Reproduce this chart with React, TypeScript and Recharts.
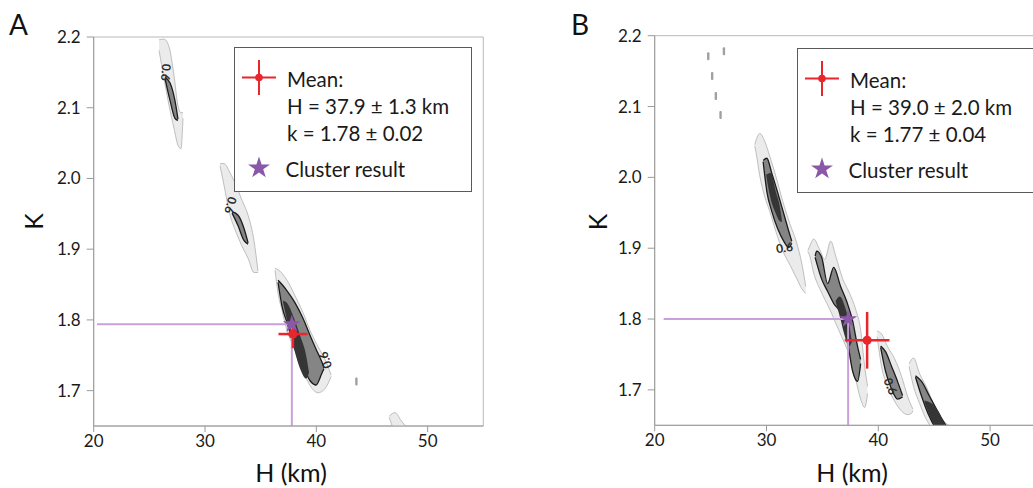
import React from 'react';
import {
  ComposedChart,
  Area,
  Scatter,
  XAxis,
  YAxis,
  ErrorBar,
  ReferenceLine,
  ReferenceArea,
  Symbols,
} from 'recharts';

const FONT = "Lato, 'Open Sans', sans-serif";

// Axes
const hTicks = [20, 30, 40, 50];
const kTicks = [1.7, 1.8, 1.9, 2.0, 2.1, 2.2];
const hDomain: [number, number] = [20, 55];
const kDomain: [number, number] = [1.65, 2.2];

// Contour rows: [H (km), lower k, upper k]
type Row = [number, number, number];

// ---- Panel A ----
const meanA = { h: 37.9, k: 1.78, eh: 1.3, ek: 0.02 };
const clusterA = { h: 37.8, k: 1.794, from: 20.3 };

const a1Outer: Row[] = [
  [25.87, 2.181, 2.196], [26.32, 2.141, 2.197], [26.77, 2.103, 2.186], [27.21, 2.071, 2.146],
  [27.57, 2.047, 2.103], [27.84, 2.042, 2.093], [28.02, 2.085, 2.093],
];
const a1Mid: Row[] = [
  [26.41, 2.141, 2.143], [26.86, 2.110, 2.135], [27.30, 2.085, 2.110], [27.57, 2.082, 2.084],
];
const a2Outer: Row[] = [
  [31.35, 2.018, 2.021], [31.71, 1.990, 2.021], [32.25, 1.948, 2.008], [32.79, 1.924, 1.990],
  [33.33, 1.904, 1.969], [33.87, 1.887, 1.948], [34.40, 1.867, 1.912], [34.76, 1.867, 1.869],
];
const a2Mid: Row[] = [
  [32.43, 1.951, 1.953], [32.97, 1.933, 1.948], [33.51, 1.912, 1.929], [33.87, 1.907, 1.909],
];
const a3Outer: Row[] = [
  [36.29, 1.870, 1.873], [36.56, 1.838, 1.871], [36.92, 1.813, 1.866], [37.37, 1.785, 1.856],
  [38.09, 1.757, 1.834], [38.81, 1.728, 1.810], [39.44, 1.707, 1.785], [40.16, 1.697, 1.762],
  [40.79, 1.703, 1.744], [41.33, 1.720, 1.722],
];
const a3Mid: Row[] = [
  [36.56, 1.853, 1.856], [36.92, 1.819, 1.850], [37.37, 1.796, 1.841], [38.09, 1.759, 1.824],
  [38.81, 1.734, 1.802], [39.44, 1.714, 1.778], [39.97, 1.708, 1.759], [40.51, 1.725, 1.740],
  [40.69, 1.731, 1.732],
];
const a3Core: Row[] = [
  [37.01, 1.825, 1.827], [37.37, 1.799, 1.824], [37.91, 1.764, 1.806], [38.54, 1.731, 1.778],
  [39.08, 1.717, 1.750], [39.34, 1.725, 1.726],
];
const a4Outer: Row[] = [
  [46.55, 1.662, 1.664], [47.08, 1.645, 1.669], [47.6, 1.645, 1.658], [48.0, 1.645, 1.650],
];
const labelsA = [
  { h: 26.5, k: 2.15, angle: 95 },
  { h: 32.3, k: 1.962, angle: 105 },
  { h: 40.8, k: 1.743, angle: -110 },
];
const specksA = [{ h: 43.6, k: 1.713 }];

// ---- Panel B ----
const meanB = { h: 39.0, k: 1.77, eh: 2.0, ek: 0.04 };
const clusterB = { h: 37.3, k: 1.8, from: 20.8 };

const b1Outer: Row[] = [
  [28.95, 2.044, 2.046], [29.04, 2.037, 2.051], [29.40, 2.002, 2.062], [29.84, 1.973, 2.051],
  [30.29, 1.952, 2.030], [30.83, 1.924, 2.002], [31.46, 1.896, 1.966], [32.08, 1.877, 1.935],
  [32.71, 1.857, 1.907], [33.15, 1.843, 1.879], [33.51, 1.836, 1.846],
];
const b1Mid: Row[] = [
  [29.7, 2.022, 2.024], [30.03, 1.980, 2.027], [30.47, 1.952, 2.006], [31.01, 1.927, 1.978],
  [31.54, 1.910, 1.949], [31.99, 1.901, 1.924], [32.26, 1.907, 1.910],
];
const b1Core: Row[] = [
  [29.98, 2.002, 2.004], [30.38, 1.969, 2.006], [30.83, 1.949, 1.980], [31.19, 1.938, 1.959],
  [31.37, 1.937, 1.941],
];
const b2Outer: Row[] = [
  [33.7, 1.895, 1.897], [33.87, 1.889, 1.903], [34.22, 1.865, 1.913], [34.76, 1.843, 1.898],
  [35.21, 1.828, 1.884], [35.74, 1.811, 1.910], [36.19, 1.794, 1.889], [36.81, 1.772, 1.857],
  [37.44, 1.747, 1.836], [37.97, 1.715, 1.814], [38.42, 1.687, 1.785], [38.78, 1.675, 1.733],
  [39.04, 1.695, 1.705],
];
const b2Mid: Row[] = [
  [34.35, 1.887, 1.889], [34.49, 1.879, 1.896], [34.94, 1.856, 1.887], [35.47, 1.839, 1.850],
  [36.01, 1.822, 1.873], [36.63, 1.808, 1.846], [37.17, 1.776, 1.825], [37.71, 1.726, 1.797],
  [38.15, 1.712, 1.761], [38.42, 1.737, 1.743],
];
const b2Core: Row[] = [
  [36.19, 1.824, 1.826], [36.55, 1.804, 1.832], [37.0, 1.776, 1.818], [37.35, 1.761, 1.797],
  [37.62, 1.767, 1.769],
];
const b3Outer: Row[] = [
  [39.9, 1.775, 1.783], [40.29, 1.733, 1.779], [40.83, 1.705, 1.761], [41.46, 1.684, 1.744],
  [42.08, 1.670, 1.719], [42.62, 1.665, 1.691], [42.97, 1.667, 1.677], [43.1, 1.671, 1.673],
];
const b3Mid: Row[] = [
  [40.21, 1.760, 1.762], [40.65, 1.726, 1.754], [41.19, 1.701, 1.733], [41.72, 1.687, 1.712],
  [42.17, 1.690, 1.692],
];
const b4Outer: Row[] = [
  [42.75, 1.733, 1.737], [43.15, 1.705, 1.745], [43.69, 1.681, 1.723], [44.31, 1.658, 1.704],
  [45.03, 1.645, 1.677], [45.92, 1.645, 1.655], [46.54, 1.645, 1.648],
];
const b4Mid: Row[] = [
  [43.33, 1.718, 1.720], [43.87, 1.691, 1.712], [44.58, 1.662, 1.691], [45.30, 1.645, 1.670],
  [45.92, 1.645, 1.653], [46.2, 1.645, 1.647],
];
const b4Core: Row[] = [
  [44.13, 1.683, 1.685], [44.76, 1.658, 1.681], [45.47, 1.645, 1.667], [45.83, 1.645, 1.655],
  [46.0, 1.645, 1.648],
];
const labelsB = [
  { h: 31.6, k: 1.901, angle: -8 },
  { h: 41.1, k: 1.705, angle: 68 },
];
const specksB = [
  { h: 24.79, k: 2.171 }, { h: 25.14, k: 2.143 }, { h: 25.47, k: 2.115 },
  { h: 25.89, k: 2.088 }, { h: 26.19, k: 2.178 },
];

type Layer = 'outer' | 'mid' | 'core';
const LAYER_STYLE: Record<Layer, { fill: string; stroke: string; strokeWidth: number }> = {
  outer: { fill: '#ebebeb', stroke: '#b0b0b0', strokeWidth: 0.8 },
  mid: { fill: '#858585', stroke: '#1c1c1c', strokeWidth: 1.3 },
  core: { fill: '#353535', stroke: 'none', strokeWidth: 0 },
};

const blobsA: [Layer, Row[]][] = [
  ['outer', a1Outer], ['mid', a1Mid],
  ['outer', a2Outer], ['mid', a2Mid],
  ['outer', a3Outer], ['mid', a3Mid], ['core', a3Core],
  ['outer', a4Outer],
];
const blobsB: [Layer, Row[]][] = [
  ['outer', b1Outer], ['mid', b1Mid], ['core', b1Core],
  ['outer', b2Outer], ['mid', b2Mid], ['core', b2Core],
  ['outer', b3Outer], ['mid', b3Mid],
  ['outer', b4Outer], ['mid', b4Mid], ['core', b4Core],
];

const toBand = (rows: Row[]) => rows.map(([h, lo, hi]) => ({ h, band: [lo, hi] }));

const RED = '#e8262b';
const PURPLE = '#8a58a8';
const LILAC = '#c9a0da';
const AXIS = '#9a9a9a';

type Mean = { h: number; k: number; eh: number; ek: number };
type Cluster = { h: number; k: number; from: number };

function Panel(props: {
  blobs: [Layer, Row[]][];
  mean: Mean;
  cluster: Cluster;
  labels: { h: number; k: number; angle: number }[];
  specks: { h: number; k: number }[];
  margin: { top: number; right: number; bottom: number; left: number };
}) {
  const { blobs, mean, cluster, labels, specks, margin } = props;
  return (
    <ComposedChart width={500} height={488} margin={margin}>
      <XAxis
        type="number"
        dataKey="h"
        domain={hDomain}
        ticks={hTicks}
        allowDataOverflow
        height={30}
        tickSize={6}
        tickMargin={3}
        stroke={AXIS}
        tick={{ fill: '#1a1a1a', fontSize: 17, fontFamily: FONT }}
      />
      <YAxis
        type="number"
        dataKey="k"
        domain={kDomain}
        ticks={kTicks}
        allowDataOverflow
        width={60}
        tickSize={7}
        tickMargin={6}
        stroke={AXIS}
        tickFormatter={(v: number) => v.toFixed(1)}
        tick={{ fill: '#1a1a1a', fontSize: 17, fontFamily: FONT }}
      />
      <ReferenceArea
        x1={hDomain[0]}
        x2={hDomain[1]}
        y1={kDomain[0]}
        y2={kDomain[1]}
        fill="none"
        fillOpacity={0}
        stroke="#b8b8b8"
        strokeWidth={1}
        ifOverflow="visible"
      />
      {blobs.map(([layer, rows], i) => (
        <Area
          key={i}
          data={toBand(rows)}
          dataKey="band"
          type="monotoneX"
          fill={LAYER_STYLE[layer].fill}
          fillOpacity={1}
          stroke={LAYER_STYLE[layer].stroke}
          strokeWidth={LAYER_STYLE[layer].strokeWidth}
          dot={false}
          activeDot={false}
          isAnimationActive={false}
        />
      ))}
      <Scatter
        data={specks}
        dataKey="k"
        isAnimationActive={false}
        shape={(p: any) => (
          <rect x={p.cx - 1.2} y={p.cy - 4} width={2.4} height={8} rx={1} fill="#a0a0a0" />
        )}
      />
      <Scatter
        data={labels}
        dataKey="k"
        isAnimationActive={false}
        shape={(p: any) => (
          <text
            x={p.cx}
            y={p.cy}
            transform={`rotate(${p.payload.angle} ${p.cx} ${p.cy})`}
            textAnchor="middle"
            dominantBaseline="central"
            fontFamily={FONT}
            fontWeight={700}
            fontSize={12}
            fill="#2a2a2a"
          >
            0.6
          </text>
        )}
      />
      <ReferenceLine
        segment={[
          { x: cluster.from, y: cluster.k },
          { x: cluster.h, y: cluster.k },
        ]}
        stroke={LILAC}
        strokeWidth={2}
        ifOverflow="visible"
      />
      <ReferenceLine
        segment={[
          { x: cluster.h, y: cluster.k },
          { x: cluster.h, y: kDomain[0] },
        ]}
        stroke={LILAC}
        strokeWidth={2}
        ifOverflow="visible"
      />
      <Scatter
        data={[cluster]}
        dataKey="k"
        isAnimationActive={false}
        shape={(p: any) => <Symbols cx={p.cx} cy={p.cy} type="star" size={100} fill={PURPLE} />}
      />
      <Scatter data={[mean]} dataKey="k" fill={RED} isAnimationActive={false}>
        <ErrorBar dataKey="eh" direction="x" width={0} stroke={RED} strokeWidth={2.5} />
        <ErrorBar dataKey="ek" direction="y" width={0} stroke={RED} strokeWidth={2.5} />
      </Scatter>
    </ComposedChart>
  );
}

function LegendBox(props: { x: number; y: number; w: number; h: number; mean: Mean }) {
  const { x, y, w, h, mean } = props;
  const cx = x + 25;
  const cy = y + 30.5;
  const tx = x + 53;
  return (
    <g fontFamily={FONT} fontSize={20.5} fill="#1a1a1a">
      <rect x={x + 0.5} y={y + 0.5} width={w} height={h} fill="#fff" stroke="#5a5a5a" strokeWidth={1} />
      <line x1={cx - 17} x2={cx + 17} y1={cy} y2={cy} stroke={RED} strokeWidth={2} />
      <line x1={cx} x2={cx} y1={cy - 17.5} y2={cy + 17.5} stroke={RED} strokeWidth={2} />
      <circle cx={cx} cy={cy} r={3.8} fill={RED} />
      <text x={tx} y={y + 40}>Mean:</text>
      <text x={tx} y={y + 66.5}>{`H = ${mean.h.toFixed(1)} ± ${mean.eh.toFixed(1)} km`}</text>
      <text x={tx} y={y + 94}>{`k = ${mean.k.toFixed(2)} ± ${mean.ek.toFixed(2)}`}</text>
      <Symbols cx={cx} cy={y + 121} type="star" size={150} fill={PURPLE} />
      <text x={tx - 1.5} y={y + 129.5}>Cluster result</text>
    </g>
  );
}

export default function App() {
  return (
    <div
      style={{
        position: 'fixed',
        left: 0,
        top: 0,
        width: 1033,
        height: 488,
        overflow: 'hidden',
        background: '#fff',
      }}
    >
      <div style={{ position: 'absolute', left: 0, top: 0 }}>
        <Panel
          blobs={blobsA}
          mean={meanA}
          cluster={clusterA}
          labels={labelsA}
          specks={specksA}
          margin={{ top: 37, right: 16.7, bottom: 32, left: 33.7 }}
        />
      </div>
      <div style={{ position: 'absolute', left: 560, top: 0 }}>
        <Panel
          blobs={blobsB}
          mean={meanB}
          cluster={clusterB}
          labels={labelsB}
          specks={specksB}
          margin={{ top: 35.7, right: 14, bottom: 32.7, left: 34.7 }}
        />
      </div>
      <svg
        width={1033}
        height={488}
        style={{ position: 'absolute', left: 0, top: 0, pointerEvents: 'none' }}
      >
        <LegendBox x={234} y={47} w={237} h={144} mean={meanA} />
        <LegendBox x={797} y={48} w={260} h={144} mean={meanB} />
        <g fontFamily={FONT} fill="#111">
          <text x={9} y={35} fontSize={28}>A</text>
          <text x={571} y={35} fontSize={28}>B</text>
          <text x={291} y={482} fontSize={25} textAnchor="middle">H (km)</text>
          <text x={852} y={482} fontSize={25} textAnchor="middle">H (km)</text>
          <text x={43} y={221.5} fontSize={25} textAnchor="middle" transform="rotate(-90 43 221.5)">K</text>
          <text x={607} y={222} fontSize={25} textAnchor="middle" transform="rotate(-90 607 222)">K</text>
        </g>
      </svg>
    </div>
  );
}
